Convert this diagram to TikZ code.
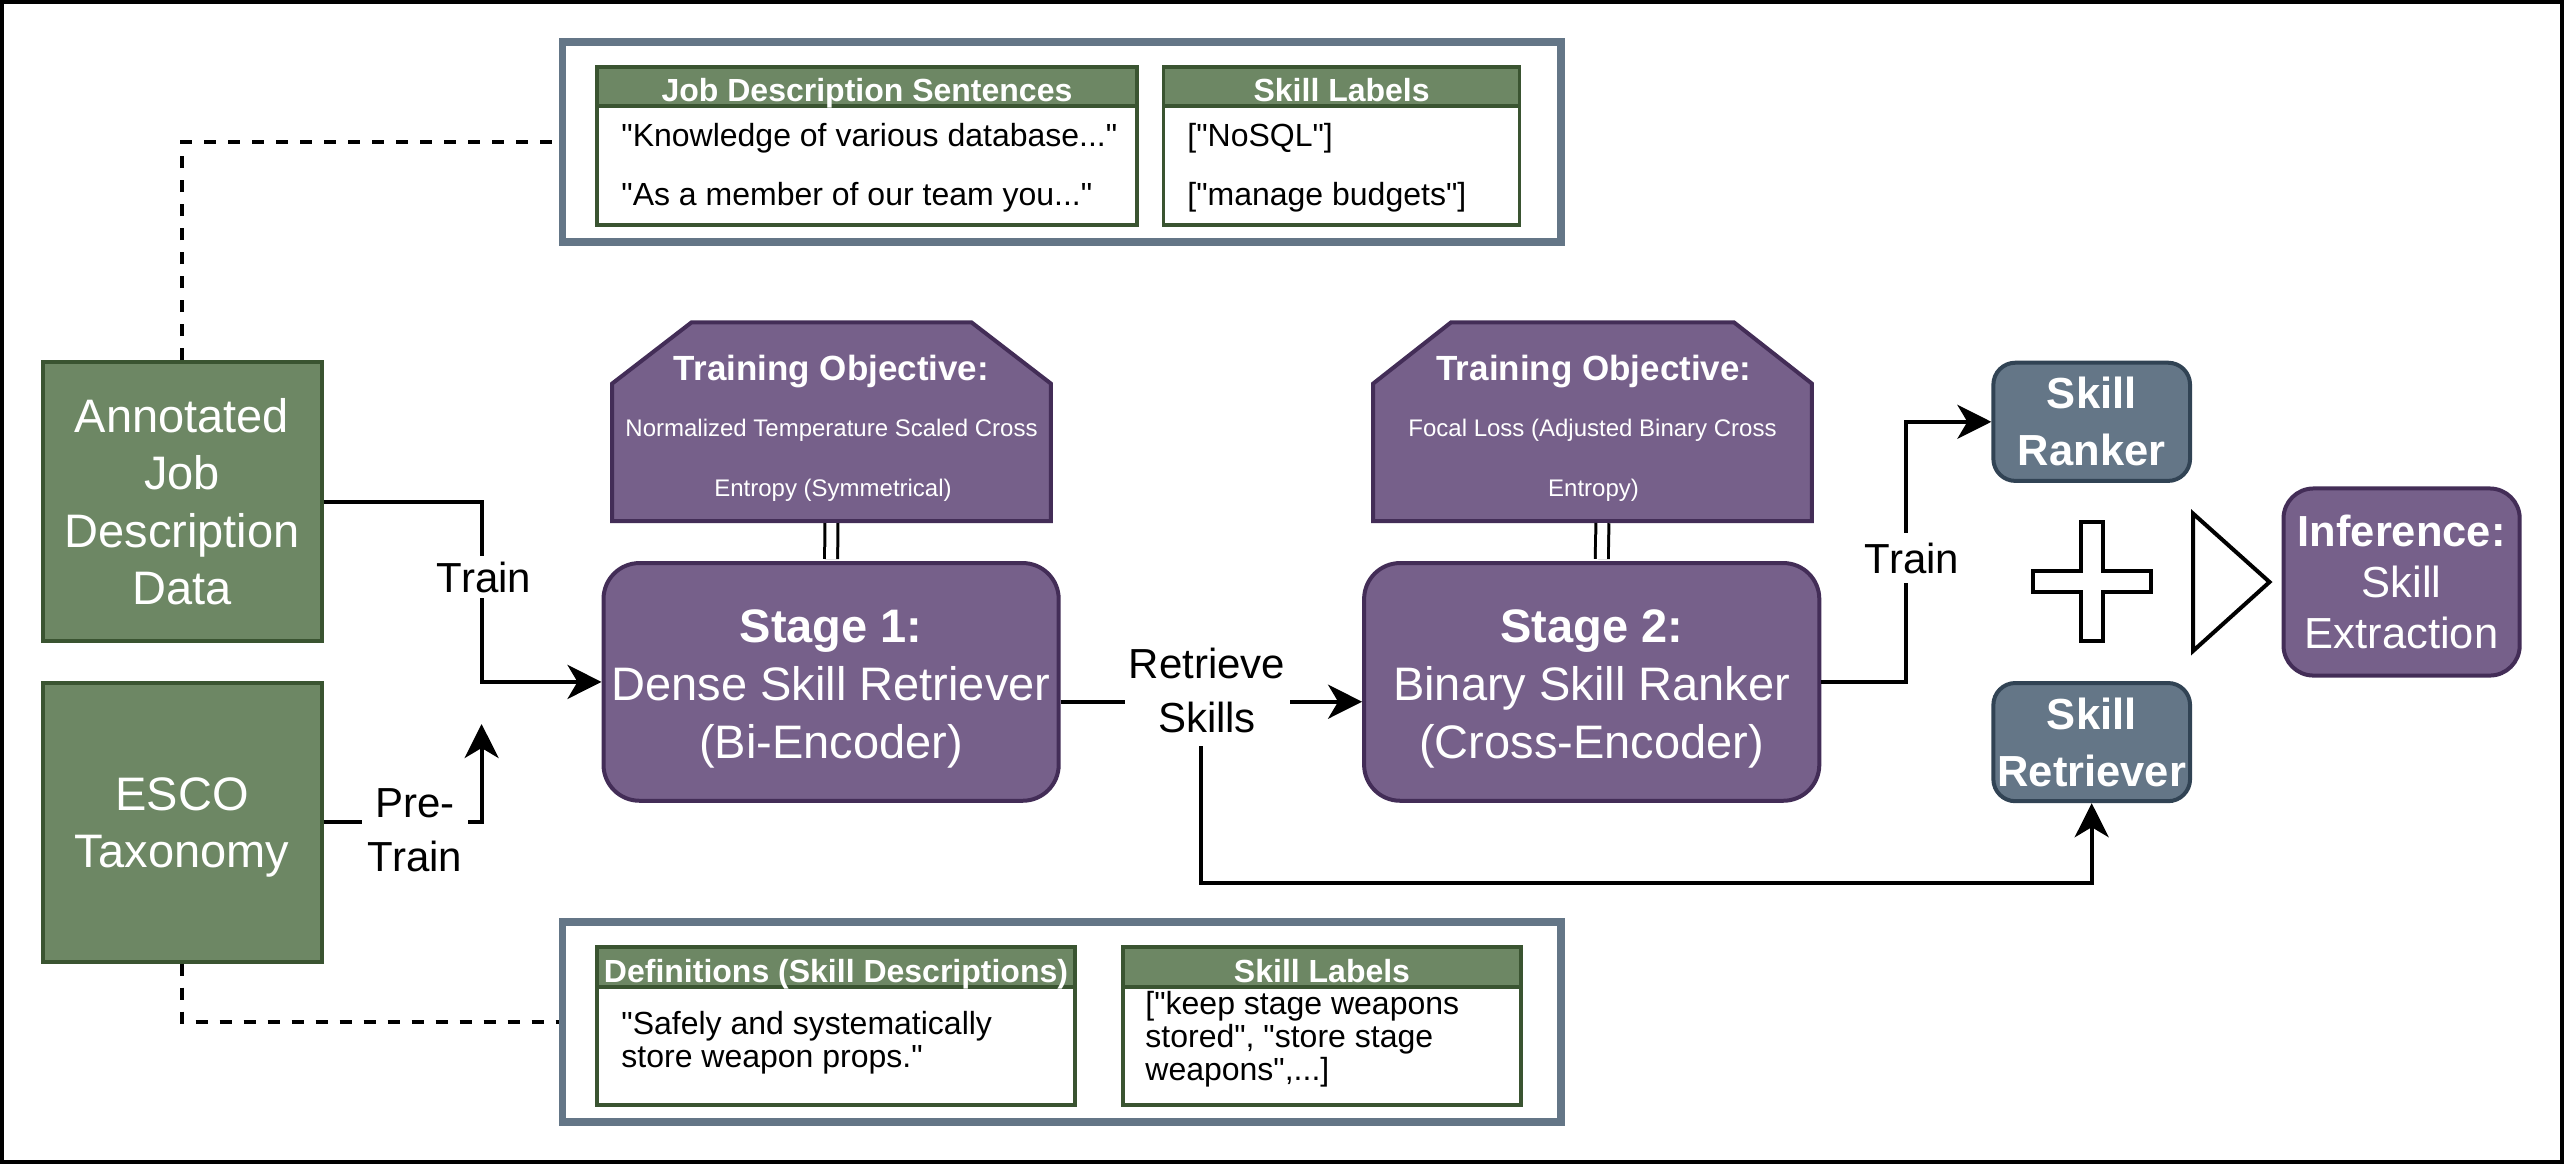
\documentclass[tikz,border=0pt]{standalone}
\usepackage{fontspec}
\setmainfont{Liberation Sans}[Ligatures=TeXOff]
\usetikzlibrary{arrows.meta,calc}
\definecolor{grnF}{HTML}{6D8764}
\definecolor{grnS}{HTML}{3A5431}
\definecolor{purF}{HTML}{76608A}
\definecolor{purS}{HTML}{432D57}
\definecolor{slaF}{HTML}{647687}
\definecolor{slaS}{HTML}{314354}
\newcommand{\myfs}[2]{\fontsize{#1}{#2}\selectfont}
\begin{document}
\begin{tikzpicture}[x=0.5pt,y=-0.5pt,
  conn/.style={line width=2pt, draw=black},
  arr/.style={conn, -{Stealth[length=17pt,width=17pt,inset=5pt]}},
  dashline/.style={line width=2pt, dash pattern=on 6pt off 6pt},
  dbl/.style={line width=1.5pt, double=white, double distance=5pt, shorten <=1pt, shorten >=1pt},
  frame/.style={draw=slaF, fill=white, line width=3.75pt, minimum width=499.3pt, minimum height=100pt, inner sep=0pt},
  thead/.style={draw=grnS, fill=grnF, line width=1.75pt, text=white, font=\bfseries\myfs{16}{19}, inner sep=0pt, text height=15.2pt, text depth=0pt},
  tbody/.style={draw=grnS, fill=white, line width=1.75pt, inner sep=0pt},
  ttext/.style={anchor=west, inner sep=0pt, align=left, font=\myfs{16}{16.5}},
  databox/.style={draw=grnS, fill=grnF, line width=2pt, text=white, align=center, font=\myfs{23.5}{28.75}, inner sep=0pt, minimum width=139.5pt, minimum height=139.5pt},
  stagebox/.style={draw=purS, fill=purF, line width=2pt, rounded corners=18pt, text=white, align=center, font=\myfs{23.5}{29}, minimum width=227.6pt, minimum height=118.85pt, inner sep=0pt},
  objarea/.style={minimum width=219pt, minimum height=99pt, inner sep=0pt},
  objline/.style={draw=purS, fill=purF, line width=2pt},
  objtitle/.style={text=white, font=\bfseries\myfs{17.5}{20}, inner sep=0pt},
  objtext/.style={text=white, font=\myfs{12}{14}, inner sep=0pt},
  modelbox/.style={draw=slaS, fill=slaF, line width=2pt, rounded corners=11pt, text=white, align=center, font=\bfseries\myfs{21.75}{28.5}, minimum width=98.35pt, minimum height=59.1pt, inner sep=0pt},
  infbox/.style={draw=purS, fill=purF, line width=2pt, rounded corners=15pt, text=white, align=center, font=\myfs{21.75}{25.4}, minimum width=118.1pt, minimum height=93.55pt, inner sep=0pt},
  symline/.style={draw=black, fill=white, line width=2pt},
  lbl/.style={fill=white, text=black, align=center, font=\myfs{21}{27}, inner sep=3pt}
]
\useasboundingbox (0,0) rectangle (2564,1164);
\fill[white] (0,0) rectangle (2564,1164);
\draw[line width=2pt] (2,2) rectangle (2562,1162);

% frames with tables
\node[frame] (topframe) at (1061.7,142) {};
\node[frame] (botframe) at (1061.7,1022) {};

\node[tbody, minimum width=270pt, minimum height=59.5pt] (t1b) at (867,165.5) {};
\node[thead, minimum width=270pt, minimum height=19.5pt] (t1h) at (867,86.5) {Job Description Sentences};
\node[tbody, minimum width=178.1pt, minimum height=59.5pt] (t2b) at (1341.6,165.5) {};
\node[thead, minimum width=178.1pt, minimum height=19.5pt] (t2h) at (1341.6,86.5) {Skill Labels};
\node[ttext] (k1) at (621,138) {"Knowledge of various database..."};
\node[ttext] (k2) at (621,197) {"As a member of our team you..."};
\node[ttext] (s1) at (1187,138) {["NoSQL"]};
\node[ttext] (s2) at (1187,197) {["manage budgets"]};

\node[tbody, minimum width=239pt, minimum height=59pt] (t3b) at (836,1046) {};
\node[thead, minimum width=239pt, minimum height=20pt] (t3h) at (836,967) {Definitions (Skill Descriptions)};
\node[tbody, minimum width=199pt, minimum height=59pt] (t4b) at (1322,1046) {};
\node[thead, minimum width=199pt, minimum height=20pt] (t4h) at (1322,967) {Skill Labels};
\node[ttext] (d1) at (621,1043) {"Safely and systematically\\store weapon props."};
\node[ttext] (d2) at (1145,1039.5) {["keep stage weapons\\stored", "store stage\\weapons",...]};

% data boxes
\node[databox] (ann) at (182,501.5) {Annotated\\Job\\Description\\Data};
\node[databox] (esco) at (182,822.2) {\rule{0pt}{21.5pt}ESCO\\Taxonomy};

% training objectives
\node[objarea] (obj1) at (831.5,421.7) {};
\draw[objline] ([xshift=39.75pt]obj1.north west) -- ([xshift=-39.75pt]obj1.north east) -- ([yshift=-30.65pt]obj1.north east) -- (obj1.south east) -- (obj1.south west) -- ([yshift=-30.65pt]obj1.north west) -- cycle;
\node[objtitle] (o1t) at (831.5,372) {Training Objective:};
\node[objtext] (o1a) at (831.5,430) {Normalized Temperature Scaled Cross};
\node[objtext] (o1b) at (833,490) {Entropy (Symmetrical)};

\node[objarea] (obj2) at (1592.5,421.7) {};
\draw[objline] ([xshift=39pt]obj2.north west) -- ([xshift=-39pt]obj2.north east) -- ([yshift=-30.65pt]obj2.north east) -- (obj2.south east) -- (obj2.south west) -- ([yshift=-30.65pt]obj2.north west) -- cycle;
\node[objtitle] (o2t) at (1594,372) {Training Objective:};
\node[objtext] (o2a) at (1592.5,430) {Focal Loss (Adjusted Binary Cross};
\node[objtext] (o2b) at (1593.5,490) {Entropy)};

% stages
\node[stagebox] (stage1) at (831.1,681.9) {\rule{0pt}{23.4pt}{\bfseries Stage 1:}\\Dense Skill Retriever\\(Bi-Encoder)};
\node[stagebox] (stage2) at (1591.7,681.9) {\rule{0pt}{23.4pt}{\bfseries Stage 2:}\\Binary Skill Ranker\\(Cross-Encoder)};

\draw[dbl] (obj1.south) -- (stage1.north);
\draw[dbl] ([xshift=5pt]obj2.south) -- ([xshift=5pt]stage2.north);

% models and inference
\node[modelbox] (ranker) at (2091.7,421.8) {Skill\\Ranker};
\node[modelbox] (retriever) at (2091.7,742.1) {Skill\\Retriever};
\node[infbox] (inf) at (2401.6,582) {{\bfseries Inference:}\\Skill\\Extraction};

\draw[symline] (2081.4,522) -- (2102.7,522) -- (2102.7,571.3) -- (2151,571.3) -- (2151,592.3) -- (2102.7,592.3) -- (2102.7,641) -- (2081.4,641) -- (2081.4,592.3) -- (2033,592.3) -- (2033,571.3) -- (2081.4,571.3) -- cycle;
\draw[symline] (2193,513.5) -- (2269.5,582) -- (2193,651) -- cycle;

% connectors
\coordinate (j1) at (481.6,590);
\coordinate (pt) at (481.6,724);
\coordinate (rs) at (1201,701.7);
\coordinate (rb) at (1201,883);
\coordinate (j2) at (1906,550);

\draw[dashline] (ann.north) |- (topframe.west);
\draw[dashline] (esco.south) |- (botframe.west);

\draw[arr] (ann.east) -| (j1) |- (stage1.west);
\draw[arr] (esco.east) -| (pt);
\draw[arr] ([yshift=-9.9pt]stage1.east) -- ([yshift=-9.9pt]stage2.west);
\draw[arr] (rs) -- (rb) -| (retriever.south);
\draw[arr] (stage2.east) -| (j2) |- (ranker.west);

% labels
\node[lbl] (trainL) at (484,577) {Train};
\node[lbl] (preL) at (415,830) {Pre-\\Train};
\node[lbl, inner xsep=0pt, inner ysep=7pt, minimum width=82.5pt] (retL) at (1207,690) {Retrieve\\Skills};
\node[lbl, inner ysep=5pt] (train2L) at (1912,558) {Train};
\end{tikzpicture}
\end{document}
